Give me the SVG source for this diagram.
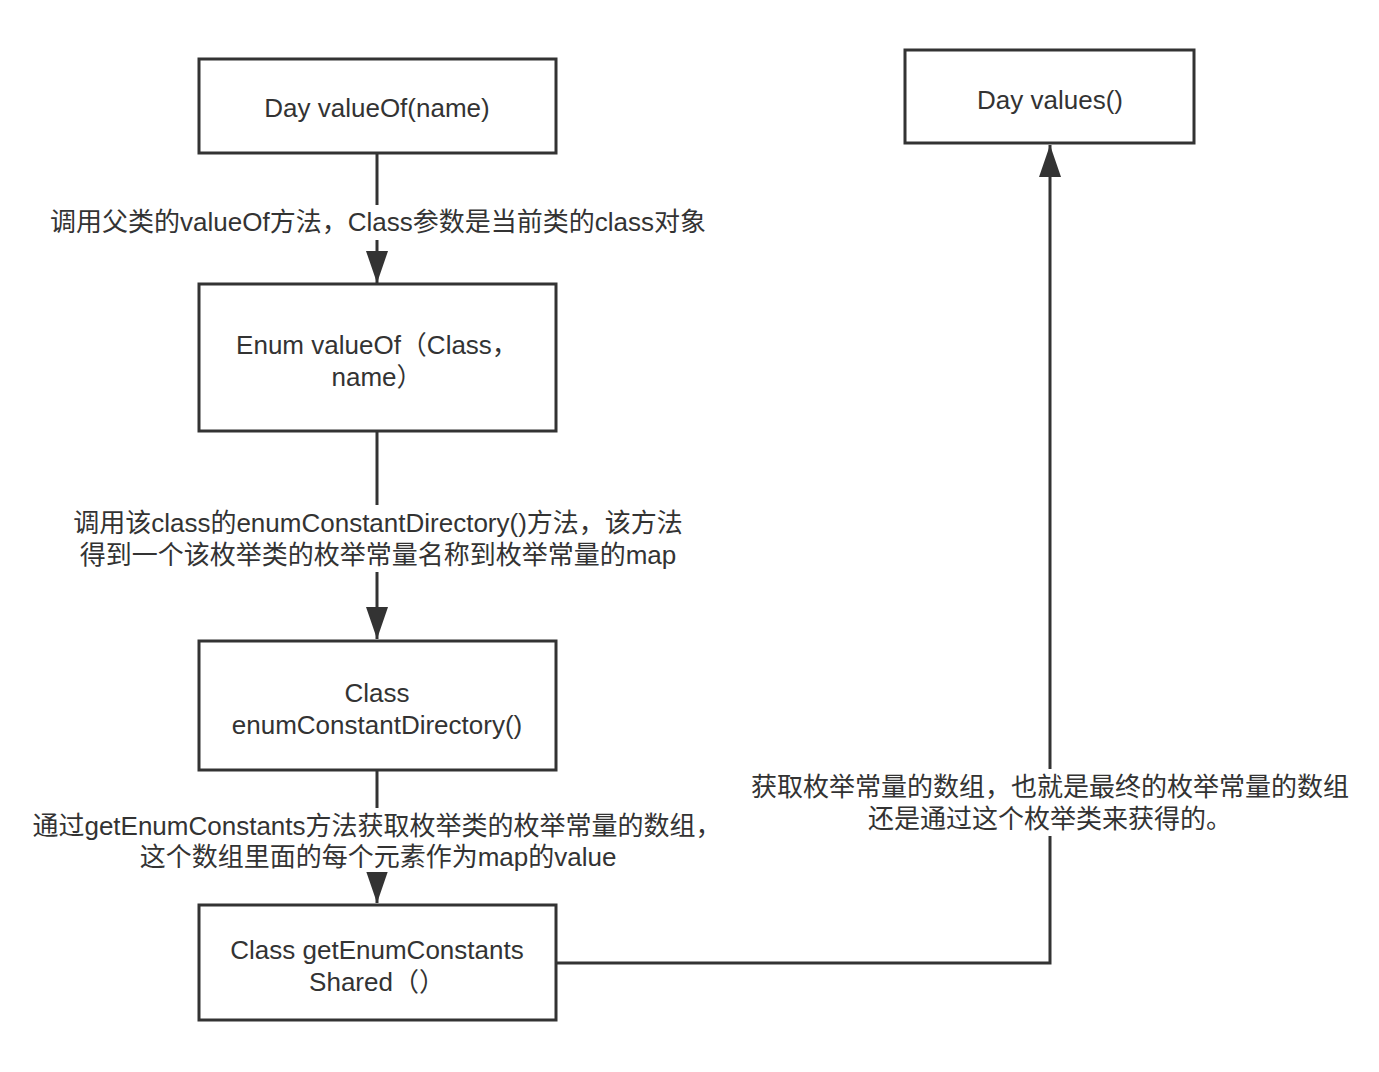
<svg xmlns="http://www.w3.org/2000/svg" width="1379" height="1072" viewBox="0 0 1379 1072">
  <style>
    .box { fill: #ffffff; stroke: #333333; stroke-width: 3; }
    .edge { fill: none; stroke: #333333; stroke-width: 3; }
    .t { font-family: "Liberation Sans", "Noto Sans CJK SC", sans-serif; font-size: 26px; fill: #333333; text-anchor: middle; }
    .bg { fill: #ffffff; stroke: none; }
  </style>
  <defs>
    <marker id="arrow" markerUnits="userSpaceOnUse" viewBox="0 0 32 22" refX="32" refY="11" markerWidth="32" markerHeight="22" orient="auto">
      <path d="M0,0 L32,11 L0,22 Z" fill="#333333"/>
    </marker>
  </defs>
  <rect width="1379" height="1072" fill="#ffffff"/>

  <g id="connectors">
    <path class="edge" d="M377,154 L377,283" marker-end="url(#arrow)"/>
    <path class="edge" d="M377,432 L377,639" marker-end="url(#arrow)"/>
    <path class="edge" d="M377,771 L377,903" marker-end="url(#arrow)"/>
    <path class="edge" d="M557,963 L1050,963 L1050,145" marker-end="url(#arrow)"/>
    <g id="label1">
      <rect class="bg" x="44" y="205" width="670" height="35"/>
      <text class="t" x="378" y="231">调用父类的valueOf方法，Class参数是当前类的class对象</text>
    </g>
    <g id="label2">
      <rect class="bg" x="62" y="505" width="634" height="67"/>
      <text class="t" x="378" y="532">调用该class的enumConstantDirectory()方法，该方法</text>
      <text class="t" x="378" y="564">得到一个该枚举类的枚举常量名称到枚举常量的map</text>
    </g>
    <g id="label3">
      <rect class="bg" x="25" y="808" width="700" height="64"/>
      <text class="t" x="377" y="835">通过getEnumConstants方法获取枚举类的枚举常量的数组，</text>
      <text class="t" x="378" y="866">这个数组里面的每个元素作为map的value</text>
    </g>
    <g id="label4">
      <rect class="bg" x="746" y="769" width="608" height="67"/>
      <text class="t" x="1050" y="796">获取枚举常量的数组，也就是最终的枚举常量的数组</text>
      <text class="t" x="1050" y="828">还是通过这个枚举类来获得的。</text>
    </g>
  </g>

  <g id="node-day-valueof">
    <rect class="box" x="199" y="59" width="357" height="94"/>
    <text class="t" x="377" y="117">Day valueOf(name)</text>
  </g>
  <g id="node-enum-valueof">
    <rect class="box" x="199" y="284" width="357" height="147"/>
    <text class="t" x="377" y="354">Enum valueOf（Class，</text>
    <text class="t" x="377" y="386">name）</text>
  </g>
  <g id="node-class-ecd">
    <rect class="box" x="199" y="641" width="357" height="129"/>
    <text class="t" x="377" y="702">Class</text>
    <text class="t" x="377" y="734">enumConstantDirectory()</text>
  </g>
  <g id="node-class-gecs">
    <rect class="box" x="199" y="905" width="357" height="115"/>
    <text class="t" x="377" y="959">Class getEnumConstants</text>
    <text class="t" x="377" y="991">Shared（）</text>
  </g>
  <g id="node-day-values">
    <rect class="box" x="905" y="50" width="289" height="93"/>
    <text class="t" x="1050" y="109">Day values()</text>
  </g>
</svg>
